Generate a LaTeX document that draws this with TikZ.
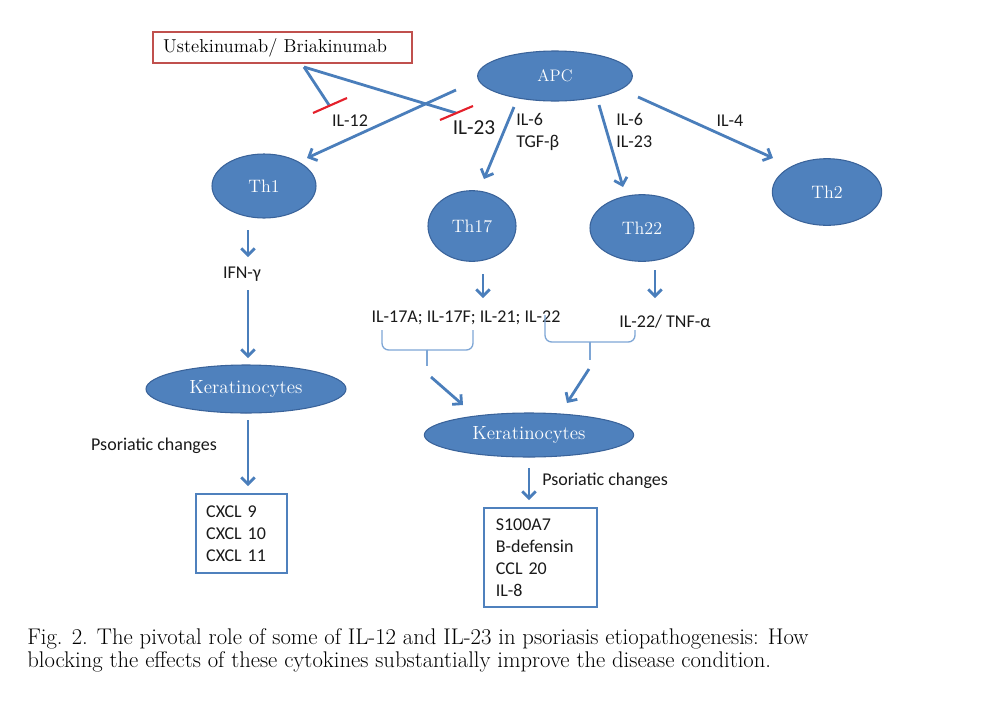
\documentclass[tikz,border=0pt]{standalone}
\usepackage{fontspec}
\newfontfamily\lab{Carlito}
\usetikzlibrary{shapes.geometric,arrows.meta,calc}
\definecolor{ofblue}{HTML}{4F81BD}
\definecolor{ofdark}{HTML}{3A639A}
\definecolor{arrblue}{HTML}{4A7EBB}
\definecolor{ofred}{HTML}{C0504D}
\definecolor{barred}{HTML}{E4202B}
\definecolor{braceblue}{HTML}{7EA6D5}
\definecolor{txt}{HTML}{1A1A1A}
\begin{document}
\begin{tikzpicture}[x=0.75pt,y=-0.75pt,
  cell/.style={ellipse, fill=ofblue, draw=ofdark, line width=0.8pt, inner sep=0pt, text=white, font=\fontsize{13.5}{15}\selectfont},
  arr/.style={draw=arrblue, line width=2.1pt, -{Straight Barb[length=5pt,width=10pt]}},
  inh/.style={draw=arrblue, line width=2.1pt},
  bar/.style={draw=barred, line width=1.6pt},
  lbl/.style={font=\lab\fontsize{13.5}{16.5}\selectfont, inner sep=0pt, align=left, text=txt},
  bigl/.style={font=\lab\fontsize{16}{18}\selectfont, inner sep=0pt, text=txt},
  listbox/.style={draw=ofblue, line width=1.5pt, font=\lab\fontsize{13.5}{16.5}\selectfont, align=left, text=txt, inner ysep=0pt},
  brc/.style={draw=braceblue, line width=1pt, rounded corners=5pt},
  captext/.style={font=\fontsize{17}{20}\selectfont, inner sep=0pt, anchor=base west}
]
\useasboundingbox (0,0) rectangle (1008,704);

% drug box
\node[draw=ofred, line width=1.6pt, minimum width=194pt, minimum height=23pt, inner xsep=7.5pt, inner ysep=0pt, text width=179pt, align=left, font=\fontsize{14}{15}\selectfont] (ustek) at (282.5,47.5) {Ustekinumab/ Briakinumab};

% cells
\node[cell, minimum width=116pt, minimum height=37.5pt, font=\fontsize{12.5}{14}\selectfont] (APC) at (555,76) {APC};
\node[cell, minimum width=78pt, minimum height=48pt] (Th1) at (264,186) {Th1};
\node[cell, minimum width=66pt, minimum height=53pt] (Th17) at (472,226) {Th17};
\node[cell, minimum width=78pt, minimum height=50pt] (Th22) at (642,228) {Th22};
\node[cell, minimum width=82pt, minimum height=50pt] (Th2) at (827,192) {Th2};
\node[cell, minimum width=150pt, minimum height=36pt, font=\fontsize{14.3}{16}\selectfont] (kerL) at (246,389) {Keratinocytes};
\node[cell, minimum width=157pt, minimum height=33pt, font=\fontsize{14.3}{16}\selectfont] (kerR) at (529,435) {Keratinocytes};

% output boxes
\node[listbox, minimum width=68pt, minimum height=59pt, text width=53pt, inner xsep=7.5pt] (cxcl) at (241.5,533.5) {CXCL 9\\CXCL 10\\CXCL 11};
\node[listbox, minimum width=85pt, minimum height=74pt, text width=67pt, inner xsep=8.5pt] (s100) at (540.5,557.5) {S100A7\\B-defensin\\CCL 20\\IL-8};

% labels
\node[lbl] (il12) at (350,121) {IL-12};
\node[bigl] (il23) at (474,128) {IL-23};
\node[lbl, anchor=north west] (il6a) at (516,113) {IL-6\\TGF-β};
\node[lbl, anchor=north west] (il6b) at (616,113) {IL-6\\IL-23};
\node[lbl] (il4) at (730,121) {IL-4};
\node[lbl] (ifn) at (242,274) {IFN-γ};
\node[lbl] (il17) at (466,318) {IL-17A; IL-17F; IL-21; IL-22};
\node[lbl, anchor=west] (tnf) at (619,322) {IL-22/ TNF-α};
\node[lbl] (psoL) at (154,446) {Psoriatic changes};
\node[lbl, anchor=west] (psoR) at (542,481) {Psoriatic changes};

% coordinates
\coordinate (ub) at (304,67);
\coordinate (e12) at (329,105);
\coordinate (e23) at (456,113);
\coordinate (a1s) at (456,90);   \coordinate (a1e) at (307,158);
\coordinate (a2s) at (514,107);  \coordinate (a2e) at (484,179);
\coordinate (a3s) at (599,105);  \coordinate (a3e) at (623,187);
\coordinate (a4s) at (638,97);   \coordinate (a4e) at (773,158);
\coordinate (bL) at (427,366);
\coordinate (bLh) at (427,350);
\coordinate (bR) at (590,360);
\coordinate (bRh) at (590,342);

% inhibition lines
\draw[inh] (ub) -- (e12);
\draw[inh] (ub) -- (e23);
\draw[bar] ($(e12)+(-16,8)$) -- ($(e12)+(18,-7)$);
\draw[bar] ($(e23)+(-16,7)$) -- ($(e23)+(17,-7)$);

% APC arrows
\draw[arr] (a1s) -- (a1e);
\draw[arr] (a2s) -- (a2e);
\draw[arr] (a3s) -- (a3e);
\draw[arr] (a4s) -- (a4e);

% downstream arrows
\draw[arr] (248,230) -- (248,257);
\draw[arr] (248,290) -- (248,358);
\draw[arr] (483,274) -- (483,298);
\draw[arr] (655,270) -- (655,298);
\draw[arr] (431,377) -- (463,405);
\draw[arr] (589,369) -- (567,403);
\draw[arr] (248,420) -- (248,486);
\draw[arr] (529,468) -- (529,500);

% braces
\draw[brc] (382,330) |- (bLh);
\draw[brc] (473,330) |- (bLh);
\draw[draw=braceblue, line width=1pt] (bLh) -- (bL);
\draw[brc] (545,315) |- (bRh);
\draw[brc] (635,330) |- (bRh);
\draw[draw=braceblue, line width=1pt] (bRh) -- (bR);

% caption
\node[captext] (cap1) at (27,644) {Fig. 2. The pivotal role of some of IL-12 and IL-23 in psoriasis etiopathogenesis: How};
\node[captext] (cap2) at (27,667) {blocking the effects of these cytokines substantially improve the disease condition.};
\end{tikzpicture}
\end{document}
